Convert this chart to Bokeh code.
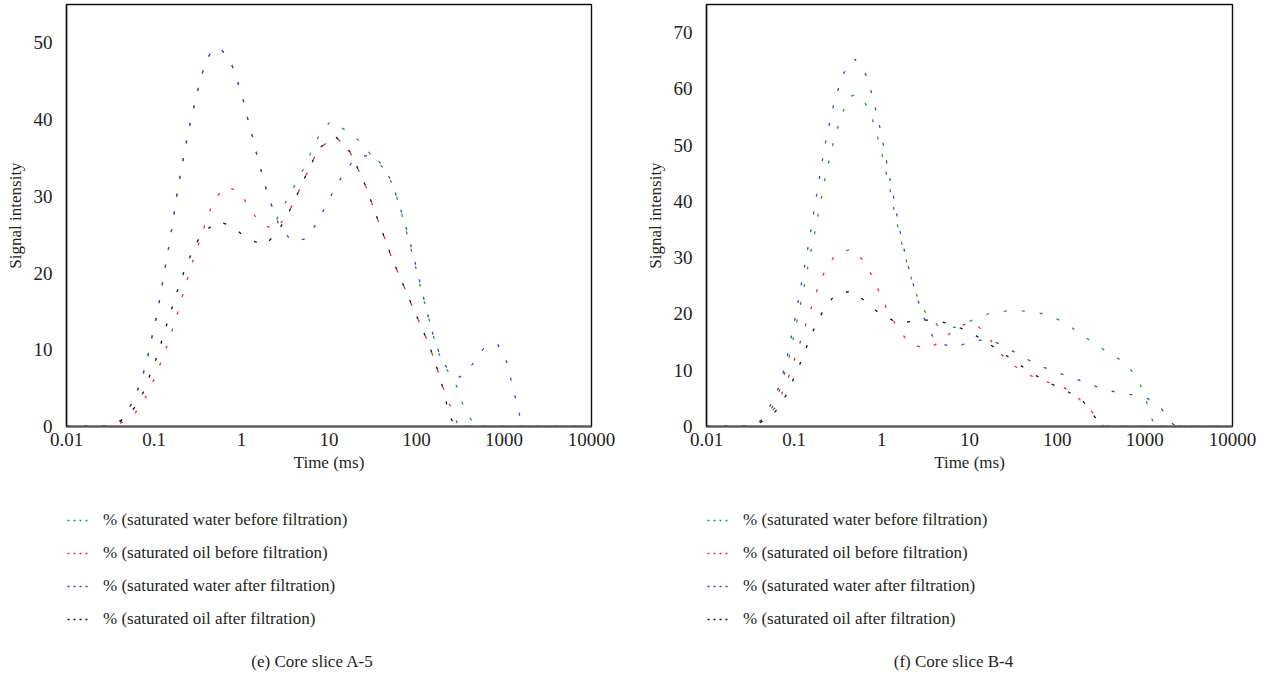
from bokeh.plotting import figure
from bokeh.layouts import row, column
from bokeh.models import Legend, LegendItem, Label, CustomJSTickFormatter
from bokeh.embed import file_html
from bokeh.resources import INLINE

FONT = "Liberation Serif"
TEXT_COLOR = "#231f20"

series_labels = [
    "% (saturated water before filtration)",
    "% (saturated oil before filtration)",
    "% (saturated water after filtration)",
    "% (saturated oil after filtration)",
]
series_colors = ["#1e9a46", "#e8302a", "#3d44c8", "#111111"]

x_ticks = [0.01, 0.1, 1, 10, 100, 1000, 10000]

# ---------------- Panel (e) Core slice A-5 ----------------
a5_water_before_t = [0.01, 0.017, 0.028, 0.042, 0.056, 0.068, 0.079, 0.089, 0.098, 0.109, 0.119, 0.129,
                     0.141, 0.153, 0.166, 0.177, 0.192, 0.21, 0.229, 0.252, 0.281, 0.314, 0.358,
                     0.428, 0.5, 0.586, 0.783, 0.916, 1.06, 1.19, 1.35, 1.51, 1.73, 1.97, 2.25, 2.5,
                     3.18, 4.04, 5.07, 6.27, 7.66, 10.4,
                     16.1, 23.5, 32.0, 46.2, 56.1, 64.6, 74.3, 83.9, 94.8, 106, 119, 136, 154, 178, 218, 286, 336, 425,
                     500, 1000, 2000, 5000, 10000]
a5_water_before = [0, 0, 0, 0.8, 3.0, 5.3, 7.7, 10.1, 12.5, 14.8, 17.2, 19.6,
                   22.1, 24.5, 26.9, 29.3, 31.7, 34.1, 36.5, 38.9, 41.3, 43.7, 46.1,
                   48.4, 49.3, 49.2, 47.0, 44.7, 42.3, 39.9, 37.6, 35.2, 32.8, 30.4, 28.5, 26.9,
                   29.2, 31.4, 33.5, 35.8, 37.9, 39.8,
                   38.5, 37.0, 35.0, 33.2, 30.8, 28.5, 26.1, 23.7, 21.4, 19.1, 16.8, 14.4, 12.0, 9.6, 7.6, 5.3, 3.0, 0.8,
                   0, 0, 0, 0, 0]

a5_oil_before_t = [0.01, 0.017, 0.028, 0.043, 0.0615, 0.082, 0.102, 0.122, 0.145, 0.168, 0.195, 0.223, 0.256,
                   0.298, 0.349, 0.406, 0.482, 0.656, 0.94, 1.245, 1.59, 2.4, 3.33, 4.14, 5.07, 6.27, 7.66, 12.1,
                   17.3, 21.4, 26.3, 31.1, 36.5, 43.4, 51.3, 62.2, 75.5, 91.6, 112, 136, 161, 186, 213, 245, 272,
                   300, 500, 1000, 2000, 5000, 10000]
a5_oil_before = [0, 0, 0, 0.5, 1.8, 4.0, 6.3, 8.6, 10.9, 13.2, 15.6, 17.9, 20.3,
                 22.6, 24.9, 27.2, 29.5, 31.3, 30.6, 28.5, 26.6, 25.6, 27.5, 29.7, 32.0, 34.2, 36.3, 37.7,
                 35.8, 33.6, 31.3, 29.0, 26.8, 24.5, 22.2, 19.9, 17.7, 15.4, 13.2, 10.9, 8.6, 6.3, 4.2, 2.6, 1.4,
                 0, 0, 0, 0, 0, 0]

a5_water_after_t = [0.01, 0.017, 0.028, 0.042, 0.056, 0.068, 0.079, 0.089, 0.098, 0.109, 0.119, 0.129,
                    0.141, 0.153, 0.166, 0.177, 0.192, 0.21, 0.229, 0.252, 0.281, 0.314, 0.358,
                    0.428, 0.5, 0.586, 0.783, 0.916, 1.06, 1.19, 1.35, 1.51, 1.73, 1.97, 2.32, 2.74,
                    3.83, 5.58, 7.4, 9.35, 11.6, 14.8, 19.7, 31.1,
                    43.8, 53.7, 62.8, 72.3, 82.4, 93.1, 104.5, 117, 131, 148, 172, 209,
                    310, 436, 578, 836, 1059, 1197, 1352, 1514,
                    1700, 2000, 5000, 10000]
a5_water_after = [0, 0, 0, 0.8, 3.0, 5.3, 7.7, 10.1, 12.5, 14.8, 17.2, 19.6,
                  22.1, 24.5, 26.9, 29.3, 31.7, 34.1, 36.5, 38.9, 41.3, 43.7, 46.1,
                  48.4, 49.3, 49.2, 47.0, 44.7, 42.3, 39.9, 37.6, 35.2, 32.8, 30.4, 28.2, 25.9,
                  24.1, 24.5, 26.7, 28.9, 31.0, 33.0, 34.9, 35.5,
                  33.7, 31.4, 29.1, 26.8, 24.5, 22.1, 19.8, 17.4, 15.1, 12.7, 10.3, 8.0,
                  6.4, 8.1, 10.1, 10.8, 8.6, 6.2, 3.7, 1.4,
                  0, 0, 0, 0]

a5_oil_after_t = [0.01, 0.017, 0.028, 0.042, 0.0604, 0.0766, 0.0912, 0.109, 0.126, 0.145, 0.168, 0.195,
                  0.231, 0.281, 0.349, 0.541, 0.794, 1.16, 1.83, 2.62, 3.33, 4.14, 5.07, 6.27, 7.66, 12.1,
                  17.3, 21.4, 26.3, 31.1, 36.5, 43.4, 51.3, 62.2, 75.5, 91.6, 112, 136, 161, 186, 213,
                  234, 280, 500, 1000, 2000, 5000, 10000]
a5_oil_after = [0, 0, 0, 0.7, 2.5, 4.6, 6.9, 9.2, 11.6, 13.9, 16.2, 18.5,
                20.8, 23.1, 25.1, 26.8, 26.0, 24.5, 23.6, 25.4, 27.5, 29.7, 32.0, 34.2, 36.3, 37.7,
                35.8, 33.6, 31.3, 29.0, 26.8, 24.5, 22.2, 19.9, 17.7, 15.4, 13.2, 10.9, 8.6, 6.3, 3.9,
                1.5, 0, 0, 0, 0, 0, 0]

# ---------------- Panel (f) Core slice B-4 ----------------
b4_water_before_t = [0.01, 0.02, 0.03, 0.042, 0.0586, 0.07, 0.0804, 0.091, 0.1012, 0.1114, 0.1236, 0.1361,
                     0.1486, 0.1652, 0.1803, 0.1986, 0.2168, 0.2404, 0.2673, 0.3048, 0.3508, 0.4285,
                     0.5, 0.608, 0.752, 0.873, 0.986, 1.104, 1.227, 1.352, 1.503, 1.683, 1.905, 2.173, 2.541, 3.162,
                     4.375, 6.966, 10.79, 17.46, 28.77, 46.99, 76.03, 116.7, 173.4, 259.4, 398.1, 595.7, 824.1,
                     1000, 1148, 1300, 2000, 5000, 10000]
b4_water_before = [0, 0, 0, 1.0, 3.8, 6.9, 10.2, 13.4, 16.8, 19.9, 23.2, 26.4,
                   29.8, 33.0, 36.3, 39.6, 42.8, 46.1, 49.3, 52.5, 55.6, 58.6,
                   59.0, 58.3, 55.4, 52.1, 48.9, 45.6, 42.4, 39.1, 35.9, 32.6, 29.5, 26.3, 23.1, 20.2,
                   17.9, 17.6, 18.9, 20.2, 20.6, 20.5, 19.9, 18.6, 16.8, 14.8, 13.0, 11.3, 8.6,
                   5.4, 2.2, 0, 0, 0, 0]

b4_oil_before_t = [0.01, 0.02, 0.03, 0.042, 0.0603, 0.0752, 0.0902, 0.1047, 0.1225, 0.141, 0.1652, 0.1932,
                   0.2344, 0.3027, 0.456, 0.6486, 0.8128, 0.986, 1.205, 1.542, 2.061, 3.304, 4.977, 6.95,
                   10.96, 15.7, 20.8, 29.5, 46.6, 74.1, 118, 167.5, 242, 320.6,
                   350, 1000, 2000, 5000, 10000]
b4_oil_before = [0, 0, 0, 0.9, 3.3, 6.4, 9.6, 12.7, 15.9, 19.0, 22.2, 25.4,
                 28.3, 30.7, 31.6, 29.1, 26.1, 23.0, 20.1, 17.4, 14.7, 13.8, 15.3, 17.6,
                 18.6, 16.4, 13.5, 11.2, 9.2, 8.0, 7.0, 5.3, 2.9, 0.3,
                 0, 0, 0, 0, 0]

b4_water_after_t = [0.01, 0.02, 0.03, 0.0421, 0.0562, 0.0681, 0.0776, 0.0871, 0.0959, 0.1057, 0.1153, 0.1259,
                    0.1374, 0.15, 0.1622, 0.1754, 0.1901, 0.2056, 0.2239, 0.2472, 0.2742, 0.3126, 0.3664,
                    0.49, 0.659, 0.759, 0.857, 0.962, 1.057, 1.156, 1.271, 1.4, 1.528, 1.683, 1.884, 2.133,
                    2.449, 2.825, 3.365, 4.188,
                    6.776, 10.59, 16.98, 26.12, 40.18, 62.8, 100.7, 160, 254.7, 409, 668, 1054, 1524, 2070,
                    2300, 5000, 10000]
b4_water_after = [0, 0, 0, 1.1, 4.3, 7.3, 10.5, 13.7, 17.0, 20.3, 23.6, 26.9,
                  30.1, 33.4, 36.7, 40.0, 43.3, 46.5, 49.9, 53.1, 56.4, 59.6, 62.8,
                  65.3, 62.5, 59.4, 56.1, 52.8, 49.6, 46.3, 43.1, 39.8, 36.6, 33.3, 30.1, 26.8,
                  23.7, 20.5, 17.4, 15.0,
                  14.0, 15.2, 15.5, 14.1, 12.4, 10.8, 9.6, 8.5, 7.3, 6.3, 5.7, 5.1, 3.3, 0.5,
                  0, 0, 0]

b4_oil_after_t = [0.01, 0.02, 0.03, 0.0422, 0.0614, 0.0798, 0.0993, 0.1213, 0.1449, 0.1754, 0.2183, 0.2917,
                  0.4519, 0.6653, 0.986, 1.596, 2.541, 4.083, 6.653,
                  10.33, 15.6, 23.33, 34.59, 52.24, 82.4, 128.8, 192.3, 263.6,
                  320, 1000, 2000, 5000, 10000]
b4_oil_after = [0, 0, 0, 0.8, 2.7, 5.4, 8.6, 11.8, 14.9, 18.0, 20.8, 23.4,
                24.1, 22.1, 19.8, 18.3, 18.9, 18.9, 18.0,
                16.7, 15.0, 13.2, 11.3, 9.4, 7.7, 6.3, 4.7, 1.9,
                0, 0, 0, 0, 0]

a5_y_max = 55
a5_y_ticks = [0, 10, 20, 30, 40, 50]
b4_y_max = 75
b4_y_ticks = [0, 10, 20, 30, 40, 50, 60, 70]

TOP_H = 480
BOTTOM_H = 200


def make_chart(times, values, y_max, y_ticks, border_left, border_right):
    p = figure(width=632, height=TOP_H, x_axis_type="log", x_range=(0.01, 10000), y_range=(0, y_max),
               output_backend="svg", toolbar_location=None,
               min_border_left=border_left, min_border_right=border_right,
               min_border_top=4, min_border_bottom=TOP_H - 426)
    p.background_fill_color = "white"
    p.border_fill_color = "white"
    p.outline_line_color = "#111111"
    p.outline_line_width = 1.4
    p.grid.visible = False

    for t, v, c in zip(times, values, series_colors):
        p.line(t, v, line_color=c, line_width=1.3, line_dash="3 15")

    p.xaxis.ticker = x_ticks
    p.xaxis.formatter = CustomJSTickFormatter(code="return tick.toString();")
    p.yaxis.ticker = y_ticks
    for ax in (p.xaxis, p.yaxis):
        ax.major_tick_line_color = None
        ax.minor_tick_line_color = None
        ax.major_label_text_font = FONT
        ax.major_label_text_font_size = "19px"
        ax.major_label_text_color = TEXT_COLOR
        ax.axis_label_text_font = FONT
        ax.axis_label_text_font_size = "17px"
        ax.axis_label_text_font_style = "normal"
        ax.axis_label_text_color = TEXT_COLOR
    p.xaxis.axis_line_color = "#555555"
    p.xaxis.axis_line_width = 2
    p.yaxis.axis_line_color = "#111111"
    p.yaxis.axis_line_width = 1.4
    p.xaxis.axis_label = "Time (ms)"
    p.yaxis.axis_label = "Signal intensity"
    p.xaxis.major_label_standoff = 0
    p.xaxis.axis_label_standoff = 4
    p.yaxis.major_label_standoff = 8
    p.yaxis.axis_label_standoff = 6
    return p


def make_key(caption, legend_x, caption_x):
    k = figure(width=632, height=BOTTOM_H, x_range=(0, 1), y_range=(0, 1),
               output_backend="svg", toolbar_location=None, min_border=0,
               x_axis_location=None, y_axis_location=None)
    k.outline_line_color = None
    k.grid.visible = False
    k.background_fill_color = "white"
    k.border_fill_color = "white"
    # sample-only renderers (kept outside the visible range) so that the legend shows dotted keys
    renderers = [k.line([-2, -1], [-2, -2], line_color=c, line_width=1.3, line_dash="2 4") for c in series_colors]
    legend = Legend(items=[LegendItem(label=lab, renderers=[r]) for lab, r in zip(series_labels, renderers)],
                    location=(legend_x, 51), orientation="vertical",
                    glyph_width=23, glyph_height=20, label_height=20, label_standoff=13, spacing=13,
                    padding=0, margin=0, border_line_color=None, background_fill_alpha=0,
                    label_text_font=FONT, label_text_font_size="17px", label_text_color=TEXT_COLOR)
    k.add_layout(legend, "center")
    k.add_layout(Label(x=caption_x, y=19, x_units="screen", y_units="screen", text=caption,
                       text_align="center", text_baseline="middle", text_font=FONT,
                       text_font_size="17px", text_color=TEXT_COLOR))
    return k


p1 = make_chart([a5_water_before_t, a5_oil_before_t, a5_water_after_t, a5_oil_after_t],
                [a5_water_before, a5_oil_before, a5_water_after, a5_oil_after],
                a5_y_max, a5_y_ticks, 66, 41)
p2 = make_chart([b4_water_before_t, b4_oil_before_t, b4_water_after_t, b4_oil_after_t],
                [b4_water_before, b4_oil_before, b4_water_after, b4_oil_after],
                b4_y_max, b4_y_ticks, 74, 32)
k1 = make_key("(e) Core slice A-5", 67, 312)
k2 = make_key("(f) Core slice B-4", 75, 321)

layout = column(row(p1, p2), row(k1, k2))
open("out.html", "w").write(file_html(layout, INLINE))
